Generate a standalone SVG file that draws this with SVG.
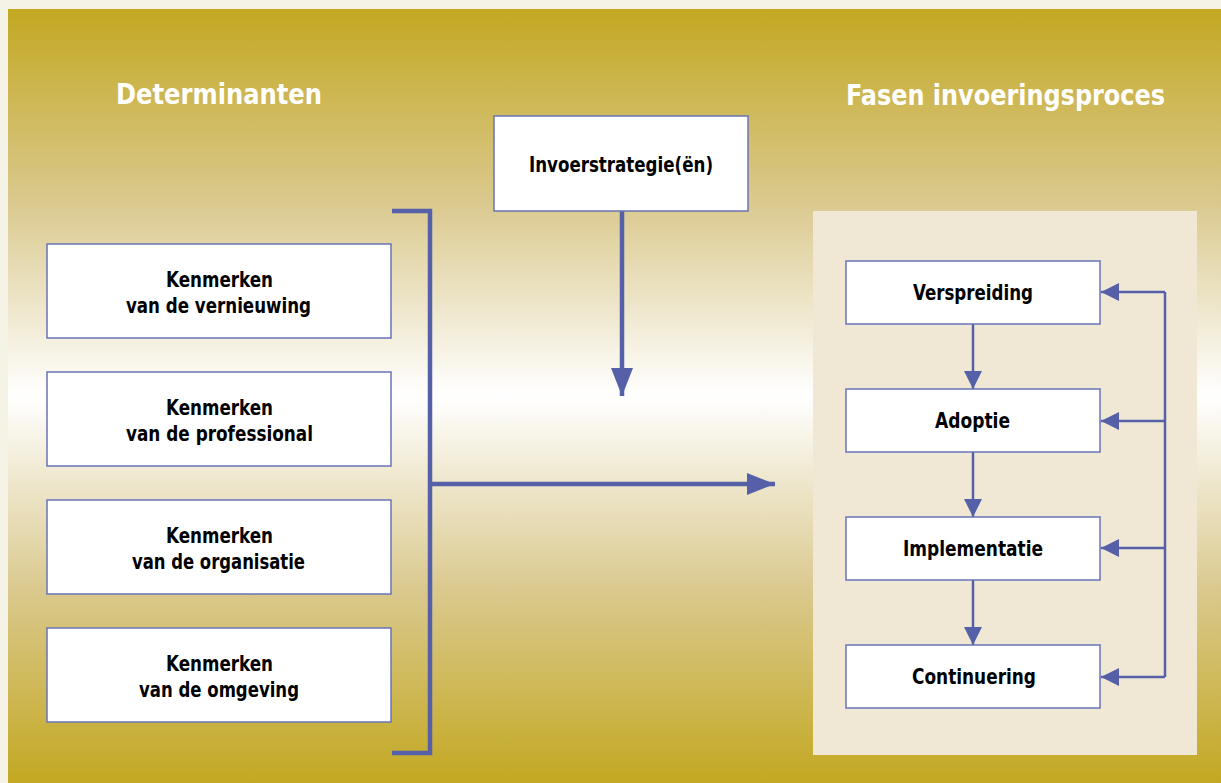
<svg xmlns="http://www.w3.org/2000/svg" width="1221" height="783" viewBox="0 0 1221 783">
<defs>
<linearGradient id="bg" gradientUnits="userSpaceOnUse" x1="0" y1="9" x2="0" y2="783">
<stop offset="0" stop-color="#c3a822"/>
<stop offset="0.25" stop-color="#dac98e"/>
<stop offset="0.5" stop-color="#ffffff"/>
<stop offset="0.75" stop-color="#dac98e"/>
<stop offset="1" stop-color="#c3a822"/>
</linearGradient>
<marker id="big" markerUnits="userSpaceOnUse" markerWidth="30" markerHeight="22" refX="28" refY="11" orient="auto">
<path d="M0,0 L28,11 L0,22 Z" fill="#5560a8"/>
</marker>
<marker id="small" markerUnits="userSpaceOnUse" markerWidth="20" markerHeight="18" refX="18" refY="9" orient="auto">
<path d="M0,0 L18,9 L0,18 Z" fill="#5560a8"/>
</marker>
<style>
.box{fill:#ffffff;stroke:#6a74b6;stroke-width:1.5}
.t{font-family:"Liberation Sans Narrow","DejaVu Sans Condensed","Liberation Sans",sans-serif;font-weight:bold;font-size:20.5px;fill:#000;text-anchor:middle}
.h{font-family:"Liberation Sans Narrow","DejaVu Sans Condensed","Liberation Sans",sans-serif;font-weight:bold;font-size:29px;fill:#fff;text-anchor:middle}
.thick{stroke:#5560a8;stroke-width:4.5;fill:none}
.thin{stroke:#5560a8;stroke-width:2.5;fill:none}
</style>
</defs>
<rect x="0" y="0" width="1221" height="783" fill="#f5f2e6"/>
<rect x="8" y="9" width="1213" height="774" fill="url(#bg)"/>
<rect x="813" y="211" width="384" height="544" fill="#f0e8d4"/>
<text class="h" x="219" y="104" textLength="206" lengthAdjust="spacingAndGlyphs">Determinanten</text>
<text class="h" x="1005.5" y="105" textLength="319" lengthAdjust="spacingAndGlyphs">Fasen invoeringsproces</text>
<g id="connectors">
<path class="thick" d="M392,211 H430 V753 H392"/>
<path class="thick" d="M430,484 H775" marker-end="url(#big)"/>
<path class="thick" d="M622,211 V396" marker-end="url(#big)"/>
<path class="thin" d="M973,324 V389" marker-end="url(#small)"/>
<path class="thin" d="M973,452 V517" marker-end="url(#small)"/>
<path class="thin" d="M973,580 V645" marker-end="url(#small)"/>
<path class="thin" d="M1165,292 V677"/>
<path class="thin" d="M1165,292 H1101" marker-end="url(#small)"/>
<path class="thin" d="M1165,421 H1101" marker-end="url(#small)"/>
<path class="thin" d="M1165,548 H1101" marker-end="url(#small)"/>
<path class="thin" d="M1165,677 H1101" marker-end="url(#small)"/>
</g>
<g id="n-vernieuwing"><rect class="box" x="47" y="244" width="344" height="94"/><text class="t" x="219.5" y="287" textLength="107" lengthAdjust="spacingAndGlyphs">Kenmerken</text><text class="t" x="218.5" y="313" textLength="185" lengthAdjust="spacingAndGlyphs">van de vernieuwing</text></g>
<g id="n-professional"><rect class="box" x="47" y="372" width="344" height="94"/><text class="t" x="219.5" y="415" textLength="107" lengthAdjust="spacingAndGlyphs">Kenmerken</text><text class="t" x="219.5" y="441" textLength="187" lengthAdjust="spacingAndGlyphs">van de professional</text></g>
<g id="n-organisatie"><rect class="box" x="47" y="500" width="344" height="94"/><text class="t" x="219.5" y="543" textLength="107" lengthAdjust="spacingAndGlyphs">Kenmerken</text><text class="t" x="218.5" y="569" textLength="173" lengthAdjust="spacingAndGlyphs">van de organisatie</text></g>
<g id="n-omgeving"><rect class="box" x="47" y="628" width="344" height="94"/><text class="t" x="219.5" y="671" textLength="107" lengthAdjust="spacingAndGlyphs">Kenmerken</text><text class="t" x="219" y="697" textLength="160" lengthAdjust="spacingAndGlyphs">van de omgeving</text></g>
<g id="n-invoer"><rect class="box" x="494" y="116" width="254" height="95"/><text class="t" x="621" y="172" textLength="184" lengthAdjust="spacingAndGlyphs">Invoerstrategie(ën)</text></g>
<g id="n-verspreiding"><rect class="box" x="846" y="261" width="254" height="63"/><text class="t" x="973" y="300" textLength="120" lengthAdjust="spacingAndGlyphs">Verspreiding</text></g>
<g id="n-adoptie"><rect class="box" x="846" y="389" width="254" height="63"/><text class="t" x="972.5" y="428" textLength="75" lengthAdjust="spacingAndGlyphs">Adoptie</text></g>
<g id="n-implementatie"><rect class="box" x="846" y="517" width="254" height="63"/><text class="t" x="973" y="556" textLength="140" lengthAdjust="spacingAndGlyphs">Implementatie</text></g>
<g id="n-continuering"><rect class="box" x="846" y="645" width="254" height="63"/><text class="t" x="974" y="684" textLength="124" lengthAdjust="spacingAndGlyphs">Continuering</text></g>
</svg>
